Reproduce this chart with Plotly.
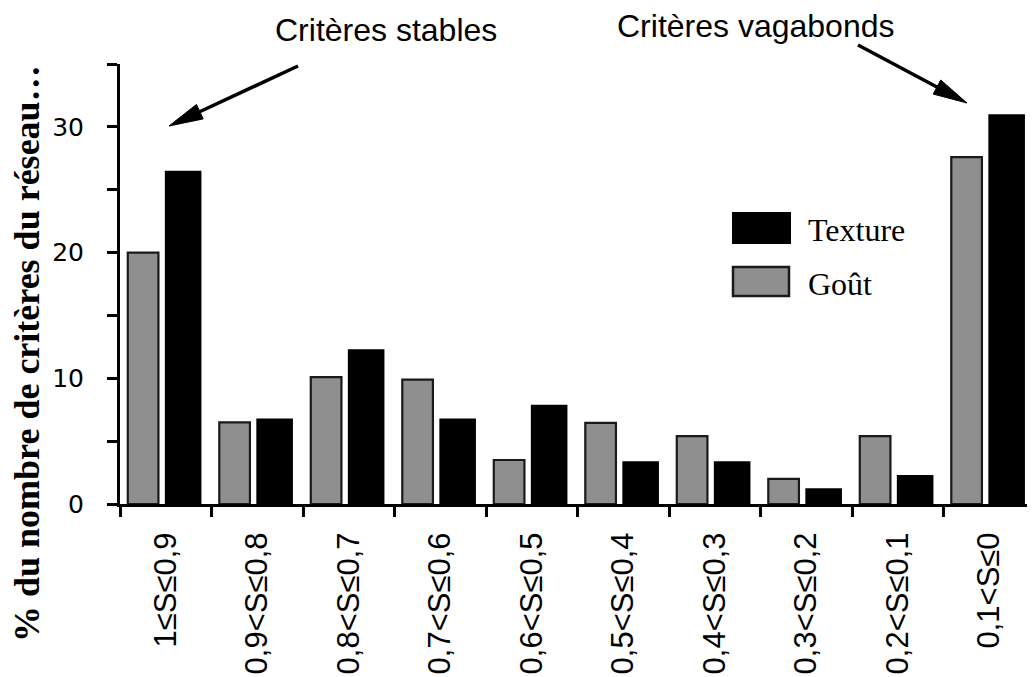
import plotly.graph_objects as go
import numpy as np

categories = ["1≤S≤0,9", "0,9<S≤0,8", "0,8<S≤0,7", "0,7<S≤0,6", "0,6<S≤0,5",
              "0,5<S≤0,4", "0,4<S≤0,3", "0,3<S≤0,2", "0,2<S≤0,1", "0,1<S≤0"]
texture = [26.5, 6.8, 12.3, 6.8, 7.9, 3.4, 3.4, 1.25, 2.3, 31.0]
gout = [20.0, 6.5, 10.1, 9.9, 3.5, 6.45, 5.4, 2.0, 5.4, 27.6]
y_tickvals = [0, 5, 10, 15, 20, 25, 30, 35]
y_ticktext = ["0", "", "10", "", "20", "", "30", ""]

# page body has an 8px margin; the figure is sized/placed to compensate
OFF = 8
PAGE_W, PAGE_H = 1035, 677
W, H = PAGE_W - OFF, PAGE_H - OFF
PL, PT, PR, PBOT = 120, 64, 1035, 504  # plot area in page pixels
L, T = PL - OFF, PT - OFF
PW, PH = PR - PL, PBOT - PT
R = W - L - PW
B = H - T - PH


def px(x):
    return (x - PL) / PW


def py(y):
    return (PBOT - y) / PH


fig = go.Figure()
fig.add_trace(go.Bar(
    x=categories, y=gout, name="Goût",
    offset=-0.415, width=0.335,
    marker=dict(color="#8f8f8f", line=dict(color="#1a1a1a", width=2.2)),
    showlegend=False,
))
fig.add_trace(go.Bar(
    x=categories, y=texture, name="Texture",
    offset=-0.01, width=0.40,
    marker=dict(color="#000000", line=dict(width=0)),
    showlegend=False,
))

shapes = []
annotations = []

# legend (manual, large symbols)
shapes.append(dict(type="rect", xref="paper", yref="paper",
                   x0=px(732), x1=px(791), y0=py(244), y1=py(212),
                   fillcolor="#000000", line=dict(width=0)))
shapes.append(dict(type="rect", xref="paper", yref="paper",
                   x0=px(733), x1=px(789), y0=py(296), y1=py(267),
                   fillcolor="#8f8f8f", line=dict(color="#1a1a1a", width=2.5)))
serif = "Liberation Serif, Times New Roman, serif"
sans = "Liberation Sans, Arial, Helvetica, sans-serif"
annotations.append(dict(text="Texture", xref="paper", yref="paper",
                        x=px(806), y=py(230), xanchor="left", yanchor="middle",
                        showarrow=False, font=dict(family=serif, size=32, color="black")))
annotations.append(dict(text="Goût", xref="paper", yref="paper",
                        x=px(806), y=py(284), xanchor="left", yanchor="middle",
                        showarrow=False, font=dict(family=serif, size=32, color="black")))

# callout texts
annotations.append(dict(text="Critères stables", xref="paper", yref="paper",
                        x=px(386), y=py(30), xanchor="center", yanchor="middle",
                        showarrow=False, font=dict(family=sans, size=32, color="black")))
annotations.append(dict(text="Critères vagabonds", xref="paper", yref="paper",
                        x=px(755), y=py(26), xanchor="center", yanchor="middle",
                        showarrow=False, font=dict(family=sans, size=32, color="black")))


def arrow(tail, tip, hl=34, hw=8, lw=3.5):
    tail = np.array(tail, float)
    tip = np.array(tip, float)
    u = (tail - tip) / np.linalg.norm(tail - tip)
    n = np.array([u[1], -u[0]])
    back = tip + hl * u
    c1 = back + hw * n
    c2 = back - hw * n
    shapes.append(dict(type="line", xref="paper", yref="paper",
                       x0=px(tail[0]), y0=py(tail[1]), x1=px(back[0] - 2 * u[0]), y1=py(back[1] - 2 * u[1]),
                       line=dict(color="black", width=lw)))
    path = "M {} {} L {} {} L {} {} Z".format(px(tip[0]), py(tip[1]), px(c1[0]), py(c1[1]),
                                              px(c2[0]), py(c2[1]))
    shapes.append(dict(type="path", xref="paper", yref="paper", path=path,
                       fillcolor="black", line=dict(color="black", width=1)))


arrow((298, 66), (169, 126))
arrow((858, 45), (967, 103))

# y title
annotations.append(dict(text="<b>% du nombre de critères du réseau…</b>", xref="paper", yref="paper",
                        x=px(27), y=py(354), xanchor="center", yanchor="middle", textangle=-90,
                        showarrow=False, font=dict(family=serif, size=36, color="black")))

fig.update_layout(
    width=W, height=H,
    margin=dict(l=L, r=R, t=T, b=B, pad=0, autoexpand=False),
    plot_bgcolor="white", paper_bgcolor="white",
    barmode="overlay",
    shapes=shapes, annotations=annotations,
    showlegend=False,
)
fig.update_xaxes(
    type="category", range=[-0.5, 9.5],
    showline=True, linewidth=3, linecolor="black",
    ticks="outside", tickson="boundaries", ticklen=10, tickwidth=3, tickcolor="black",
    tickangle=-90, tickfont=dict(family=sans, size=31, color="black"),
    ticklabelstandoff=13,
    showgrid=False, zeroline=False,
)
fig.update_yaxes(
    range=[0, 35], tickmode="array", tickvals=y_tickvals, ticktext=y_ticktext,
    showline=True, linewidth=3, linecolor="black",
    ticks="outside", ticklen=10, tickwidth=3, tickcolor="black",
    tickfont=dict(family="DejaVu Sans, Verdana, sans-serif", size=25, color="black"),
    ticklabelstandoff=18,
    showgrid=False, zeroline=False,
)

fig.write_html("out.html")
